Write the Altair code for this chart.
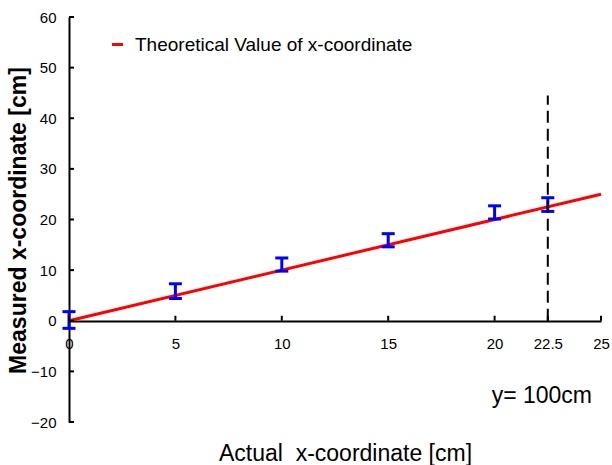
import altair as alt
import pandas as pd

# ---- data ----
x_pts = [0, 5, 10, 15, 20, 22.5]
y_lo = [-1.5, 4.4, 9.8, 14.6, 20.1, 21.6]
y_hi = [1.8, 7.3, 12.4, 17.2, 22.7, 24.3]
theory_x = [0, 25]
theory_y = [0, 25]
marker_x = [22.5]
marker_lo = [0]
marker_hi = [44.5]
x_ticks = [0, 5, 10, 15, 20, 22.5, 25]
y_ticks = [-20, -10, 0, 10, 20, 30, 40, 50, 60]
legend_label = "Theoretical Value of x-coordinate"
note_text = "y= 100cm"

W, H = 532, 405
FONT = "Liberation Sans"

xs = alt.Scale(domain=[0, 25], nice=False, zero=False)
ys = alt.Scale(domain=[-20, 60], nice=False, zero=False)

x_axis = alt.Axis(
    values=x_ticks, format=".1~f", ticks=False, tickSize=0, grid=False,
    domainColor="black", domainWidth=2, labelFontSize=15, labelColor="black",
    labelPadding=15, labelOverlap=False, labelFlush=False, offset=-101,
    title="Actual\u00a0 x-coordinate [cm]", titleFontSize=23, titleFontWeight="normal",
    titleColor="black", titleX=276, titleY=132, titleBaseline="middle", titleAlign="center",
)
y_axis = alt.Axis(
    values=y_ticks, format=".1~f", ticks=False, tickSize=0, grid=False,
    domainColor="black", domainWidth=2, labelFontSize=15, labelColor="black",
    labelPadding=13, labelOverlap=False, labelFlush=False,
    title="Measured x-coordinate [cm]", titleFontSize=23, titleFontWeight="bold",
    titleColor="black", titleX=-51, titleY=203, titleAngle=-90, titleBaseline="middle",
    titleAlign="center",
)


def X(field):
    return alt.X(field, type="quantitative", scale=xs, axis=x_axis)


def Y(field):
    return alt.Y(field, type="quantitative", scale=ys, axis=y_axis)


theory = pd.DataFrame({"x": theory_x, "y": theory_y, "s": [legend_label] * len(theory_x)})
err = pd.DataFrame({"x": x_pts, "lo": y_lo, "hi": y_hi})
marker = pd.DataFrame({"x": marker_x, "lo": marker_lo, "hi": marker_hi})
xt = pd.DataFrame({"x": x_ticks, "zero": [0] * len(x_ticks)})
yt = pd.DataFrame({"y": y_ticks, "zero": [0] * len(y_ticks)})
note = pd.DataFrame({"t": [note_text]})

line = alt.Chart(theory).mark_line(strokeWidth=3).encode(
    x=X("x"), y=Y("y"),
    color=alt.Color("s:N", scale=alt.Scale(domain=[legend_label], range=["#ff0000"]),
                    legend=alt.Legend(title=None, orient="none", legendX=39, legendY=18,
                                      symbolType="stroke", symbolSize=121, symbolStrokeWidth=3,
                                      labelFontSize=19, labelColor="black", labelOffset=8,
                                      labelLimit=0, padding=0, labelFont=FONT)),
)

bars = alt.Chart(err).mark_rule(color="#0000ff", strokeWidth=3, opacity=1).encode(
    x=X("x"), y=Y("lo"), y2="hi"
)
cap_lo = alt.Chart(err).mark_tick(color="#0000ff", orient="horizontal", size=13, thickness=3, opacity=1).encode(
    x=X("x"), y=Y("lo")
)
cap_hi = alt.Chart(err).mark_tick(color="#0000ff", orient="horizontal", size=13, thickness=3, opacity=1).encode(
    x=X("x"), y=Y("hi")
)

dashed = alt.Chart(marker).mark_rule(color="black", strokeWidth=2, strokeDash=[12, 6]).encode(
    x=X("x"), y=Y("lo"), y2="hi"
)

xticks = alt.Chart(xt).mark_tick(color="black", orient="vertical", size=5, thickness=2, yOffset=-2.5, opacity=1).encode(
    x=X("x"), y=Y("zero")
)
yticks = alt.Chart(yt).mark_tick(color="black", orient="horizontal", size=5, thickness=2, xOffset=2.5, opacity=1).encode(
    x=X("zero"), y=Y("y")
)

label = alt.Chart(note).mark_text(fontSize=23, color="black", align="right", baseline="middle", font=FONT).encode(
    x=alt.value(523), y=alt.value(379), text="t:N"
)

chart = alt.layer(line, bars, cap_lo, cap_hi, dashed, xticks, yticks, label).properties(
    width=W, height=H,
    autosize=alt.AutoSizeParams(type="none"),
    padding={"left": 69, "top": 17, "right": 11, "bottom": 43},
).configure(font=FONT).configure_view(stroke=None)

chart.save("out.html", embed_options={"renderer": "svg", "actions": False})
